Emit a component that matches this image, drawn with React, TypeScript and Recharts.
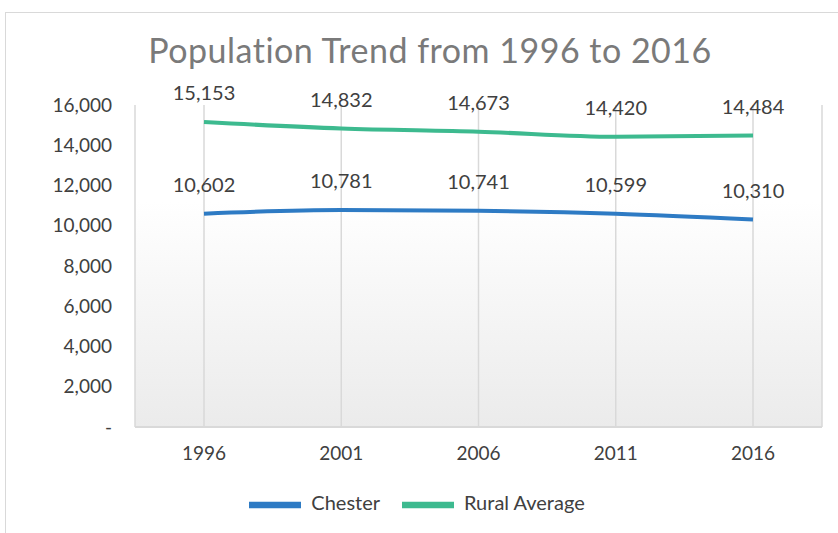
import React from 'react';
import { LineChart, Line, XAxis, YAxis, CartesianGrid, Legend, LabelList } from 'recharts';

const years = ['1996', '2001', '2006', '2011', '2016'];
const chester = [10602, 10781, 10741, 10599, 10310];
const ruralAverage = [15153, 14832, 14673, 14420, 14484];
const yTicks = [0, 2000, 4000, 6000, 8000, 10000, 12000, 14000, 16000];

const data = years.map((year, i) => ({
  year,
  chester: chester[i],
  rural: ruralAverage[i],
}));

const fmt = (v: number) => (v === 0 ? '-' : v.toLocaleString('en-US'));

const FONT = 'Lato, "Noto Sans", sans-serif';
const TEXT = '#404040';

const App = () => {
  return (
    <div
      style={{
        position: 'absolute',
        left: 5,
        top: 12,
        width: 840,
        height: 521,
        border: '1px solid #d9d9d9',
        background: '#fff',
        fontFamily: FONT,
      }}
    >
      <div
        style={{
          position: 'absolute',
          top: 16,
          left: 0,
          width: 848,
          textAlign: 'center',
          fontSize: 34,
          color: '#7a7a7a',
          letterSpacing: 0.5,
        }}
      >
        Population Trend from 1996 to 2016
      </div>
      <LineChart
        width={840}
        height={521}
        data={data}
        margin={{ top: 92, right: 24, bottom: 18, left: 0 }}
      >
        <defs>
          <linearGradient id="plotBg" x1="0" y1="0" x2="0" y2="1">
            <stop offset="0" stopColor="#ffffff" />
            <stop offset="0.3" stopColor="#ffffff" />
            <stop offset="1" stopColor="#ebebeb" />
          </linearGradient>
        </defs>
        <CartesianGrid horizontal={false} stroke="#d9d9d9" strokeWidth={1.5} fill="url(#plotBg)" />
        <XAxis
          dataKey="year"
          padding={{ left: 69, right: 69 }}
          height={37}
          tickLine={false}
          tickSize={0}
          tickMargin={20}
          axisLine={{ stroke: '#d9d9d9', strokeWidth: 2 }}
          tick={{ fill: TEXT, fontSize: 19, fontFamily: FONT }}
        />
        <YAxis
          width={129}
          domain={[0, 16000]}
          ticks={yTicks}
          interval={0}
          tickFormatter={fmt}
          axisLine={false}
          tickLine={false}
          tickSize={0}
          tickMargin={23}
          tick={{ fill: TEXT, fontSize: 19, fontFamily: FONT }}
        />
        <Legend
          verticalAlign="bottom"
          iconType="plainline"
          iconSize={52}
          wrapperStyle={{ fontSize: 20, fontFamily: FONT, top: 466, left: 14 }}
          formatter={(value) => (
            <span style={{ color: TEXT, marginLeft: 6, marginRight: 12 }}>{value}</span>
          )}
        />
        <Line
          type="monotone"
          dataKey="chester"
          name="Chester"
          stroke="#2e7bc4"
          strokeWidth={4}
          dot={false}
          isAnimationActive={false}
        >
          <LabelList
            dataKey="chester"
            position="top"
            offset={22}
            formatter={(v: number) => fmt(v)}
            style={{ fill: TEXT, fontSize: 20, fontFamily: FONT }}
          />
        </Line>
        <Line
          type="monotone"
          dataKey="rural"
          name="Rural Average"
          stroke="#3dba8f"
          strokeWidth={4}
          dot={false}
          isAnimationActive={false}
        >
          <LabelList
            dataKey="rural"
            position="top"
            offset={22}
            formatter={(v: number) => fmt(v)}
            style={{ fill: TEXT, fontSize: 20, fontFamily: FONT }}
          />
        </Line>
      </LineChart>
    </div>
  );
};

export default App;
